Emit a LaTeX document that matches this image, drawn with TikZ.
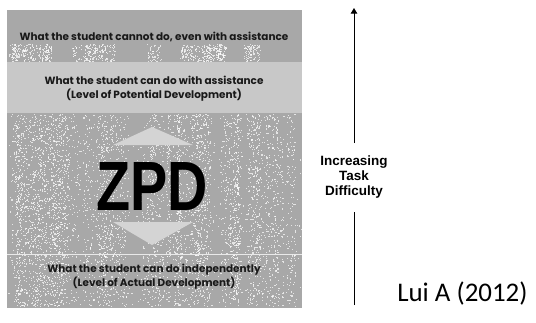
\documentclass[tikz,border=0pt]{standalone}
\usepackage{fontspec}
\setmainfont{Poppins}
\newfontfamily\arialfont{Liberation Sans}
\newfontfamily\calibrifont{Carlito}
\usetikzlibrary{arrows.meta}
\usetikzlibrary{positioning}

\definecolor{zonegray}{HTML}{A8A8A8}
\definecolor{assistgray}{HTML}{C8C8C8}
\definecolor{tipgray}{HTML}{D4D4D4}

\begin{document}
\begin{tikzpicture}[%
  >={Triangle[scale=1.1]},
  x=1bp, y=-1bp,
  bandtext/.style={font=\fontsize{10.5}{14}\selectfont\bfseries, align=center, text=black!90},
  sidetext/.style={font=\arialfont\fontsize{13.5}{15.5}\selectfont\bfseries, align=center},
  speck/.style={white, opacity=0.7}
]

  \useasboundingbox (0,0) rectangle (536,322);

  % panel and bands
  \fill[zonegray] (7,10) rectangle (302,308);
  \fill[assistgray] (7,62) rectangle (302,113);

  % streaky speckle, lower zone
  \pgfmathsetseed{11}
  \foreach \s in {1,...,40} {
    \pgfmathsetmacro\cx{8+280*rnd}
    \pgfmathsetmacro\cw{4+14*rnd}
    \foreach \j in {1,...,120} {
      \fill[speck] ({\cx+\cw*rnd},{114+192*rnd}) rectangle ++(1.1,1.1);
    }
  }
  \foreach \i in {1,...,700} {
    \fill[speck] ({8+293*rnd},{114+192*rnd}) rectangle ++(1.1,1.1);
  }
  % speckle under the top line
  \foreach \s in {1,...,18} {
    \pgfmathsetmacro\cx{8+280*rnd}
    \pgfmathsetmacro\cw{6+14*rnd}
    \foreach \j in {1,...,45} {
      \fill[speck] ({\cx+\cw*rnd},{44+17*rnd}) rectangle ++(1.1,1.1);
    }
  }

  % arrow heads inside the zone
  \fill[tipgray] (152,127) -- (193,145) -- (113,145) -- cycle;
  \fill[tipgray] (113,222) -- (193,222) -- (152,245) -- cycle;
  \draw[white!75!zonegray, line width=0.6] (7,254) -- (302,254);

  \node[bandtext] (cannot) at (154,37) {What the student cannot do, even with assistance};
  \node[bandtext] (potential) at (154,89) {What the student can do with assistance\\(Level of Potential Development)};
  \node[font=\arialfont\fontsize{70}{70}\selectfont\bfseries] (zpd) at (152,187) {\scalebox{0.8}[1]{ZPD}};
  \node[bandtext] (actual) at (154,277) {What the student can do independently\\(Level of Actual Development)};

  % difficulty axis
  \coordinate (top) at (354,8);
  \coordinate (gaptop) at (354,143);
  \coordinate (gapbot) at (354,212);
  \coordinate (base) at (354,305);
  \node[sidetext] (diff) at (354,177) {Increasing\\Task\\Difficulty};
  \draw[->, line width=0.9] (gaptop) -- (top);
  \draw[line width=0.9] (base) -- (gapbot);

  \node[font=\calibrifont\fontsize{27}{30}\selectfont, anchor=east] (cite) at (531,294) {Lui A (2012)};

\end{tikzpicture}
\end{document}
